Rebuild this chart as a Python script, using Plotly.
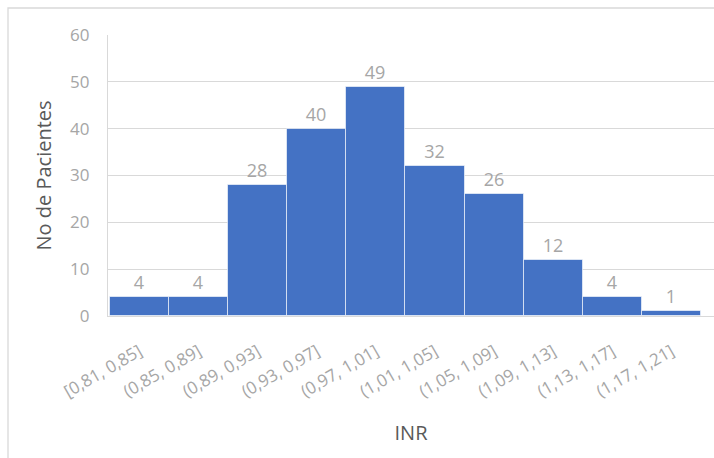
import plotly.graph_objects as go

# INR bins and patient counts
bins = ["[0,81, 0,85]", "(0,85, 0,89]", "(0,89, 0,93]", "(0,93, 0,97]", "(0,97, 1,01]",
        "(1,01, 1,05]", "(1,05, 1,09]", "(1,09, 1,13]", "(1,13, 1,17]", "(1,17, 1,21]"]
pacientes = [4, 4, 28, 40, 49, 32, 26, 12, 4, 1]
y_ticks = [0, 10, 20, 30, 40, 50, 60]

W, H = 714, 458
ML, MR, MT, MB = 108, 0, 35, 142
FONT = "Open Sans"
GRID = "#D9D9D9"
TICK_GRAY = "#A6A6A6"
TITLE_GRAY = "#595959"

fig = go.Figure(go.Bar(
    x=list(range(len(bins))),
    y=pacientes,
    marker=dict(color="#4472C4", line=dict(color="rgba(255,255,255,0.6)", width=1)),
    text=[str(v) for v in pacientes],
    textposition="outside",
    textfont=dict(family=FONT, size=18, color=TICK_GRAY),
    cliponaxis=False,
    width=1.0,
))

# outer chart frame (runs off the right and bottom edges)
pw, ph = W - ML - MR, H - MT - MB
def px_x(p): return (p - ML) / pw
def px_y(p): return 1 - (p - MT) / ph

fig.add_shape(type="rect", xref="paper", yref="paper",
              x0=px_x(8), x1=px_x(W + 20), y0=px_y(H + 20), y1=px_y(8),
              line=dict(color="#D9D9D9", width=1.3), layer="below")

fig.update_layout(
    width=W, height=H,
    margin=dict(l=ML, r=MR, t=MT, b=MB),
    paper_bgcolor="white", plot_bgcolor="white",
    bargap=0, showlegend=False,
    font=dict(family=FONT),
    xaxis=dict(
        range=[-0.53, 9.72],
        tickmode="array", tickvals=list(range(len(bins))), ticktext=bins,
        tickangle=-30,
        tickfont=dict(family=FONT, size=17, color=TICK_GRAY),
        ticks="outside", ticklen=18, tickcolor="rgba(0,0,0,0)",
        showline=True, linecolor=GRID, linewidth=1.3,
        showgrid=False, zeroline=False,
        title=dict(text="INR", font=dict(family=FONT, size=20, color=TITLE_GRAY), standoff=24),
    ),
    yaxis=dict(
        range=[0, 60],
        tickmode="array", tickvals=y_ticks,
        tickfont=dict(family=FONT, size=17, color=TICK_GRAY),
        ticks="outside", ticklen=14, tickcolor="rgba(0,0,0,0)",
        showline=True, linecolor=GRID, linewidth=1.3,
        showgrid=True, gridcolor=GRID, gridwidth=1.3,
        zeroline=False,
        title=dict(text="No de Pacientes", font=dict(family=FONT, size=20, color=TITLE_GRAY), standoff=12),
    ),
)

fig.write_html("out.html")
